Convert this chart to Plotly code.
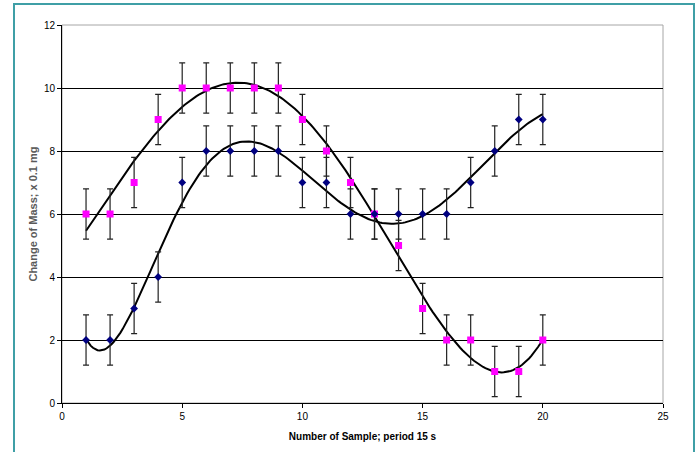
import numpy as np
import plotly.graph_objects as go

samples = list(range(1, 21))
mass_pink = [6, 6, 7, 9, 10, 10, 10, 10, 10, 9, 8, 7, 6, 5, 3, 2, 2, 1, 1, 2]
mass_blue = [2, 2, 3, 4, 7, 8, 8, 8, 8, 7, 7, 6, 6, 6, 6, 6, 7, 8, 9, 9]
err = 0.8
x_ticks = [0, 5, 10, 15, 20, 25]
y_ticks = [0, 2, 4, 6, 8, 10, 12]

def trend(xs, ys, order):
    c = np.polyfit(xs, ys, order)
    xf = np.linspace(min(xs), max(xs), 200)
    return xf, np.polyval(c, xf)

fig = go.Figure()
for ys, order in ((mass_pink, 4), (mass_blue, 6)):
    xf, yf = trend(samples, ys, order)
    fig.add_trace(go.Scatter(x=xf, y=yf, mode="lines",
                             line=dict(color="black", width=2), hoverinfo="skip"))

fig.add_trace(go.Scatter(x=samples, y=mass_pink, mode="markers",
                         marker=dict(symbol="square", size=7, color="#ff00ff"),
                         error_y=dict(type="constant", value=err, color="#222222",
                                      thickness=1.2, width=3)))
fig.add_trace(go.Scatter(x=samples, y=mass_blue, mode="markers",
                         marker=dict(symbol="diamond", size=6, color="#000080"),
                         error_y=dict(type="constant", value=err, color="#222222",
                                      thickness=1.2, width=3)))

L, R, T, B = 62, 36, 25, 49
W, H = 699, 452
pw, ph = W - L - R, H - T - B

def px(xp):
    return (xp - L) / pw

def py(yp):
    return (H - B - yp) / ph

fig.add_shape(type="rect", xref="paper", yref="paper",
              x0=px(14), x1=px(694), y0=py(470), y1=py(4),
              line=dict(color="#3f9fa6", width=2), layer="below")
fig.add_shape(type="rect", xref="paper", yref="paper", x0=0, x1=1, y0=0, y1=1,
              line=dict(color="#a6a6a6", width=1), layer="below")

fig.update_layout(
    width=W, height=H,
    margin=dict(l=L, r=R, t=T, b=B),
    paper_bgcolor="white", plot_bgcolor="white",
    showlegend=False,
    font=dict(family="Liberation Sans, Arial, sans-serif", size=10, color="black"),
)
fig.update_xaxes(range=[0, 25], tickvals=x_ticks, showgrid=False, zeroline=False,
                 showline=True, linecolor="black", linewidth=1,
                 ticks="outside", ticklen=4, tickcolor="black",
                 tickfont=dict(size=10),
                 title=dict(text="<b>Number of Sample; period 15 s</b>",
                            font=dict(size=10), standoff=11))
fig.update_yaxes(range=[0, 12], tickvals=y_ticks, showgrid=True, gridcolor="black",
                 gridwidth=1, zeroline=False,
                 showline=True, linecolor="black", linewidth=1,
                 ticks="outside", ticklen=4, tickcolor="black",
                 tickfont=dict(size=10),
                 title=dict(text="<b>Change of Mass; x 0.1 mg</b>",
                            font=dict(size=11, color="#5a5a5a"), standoff=4))

fig.write_html("out.html", config={"displayModeBar": False},
               post_script="document.body.style.margin='0';")
